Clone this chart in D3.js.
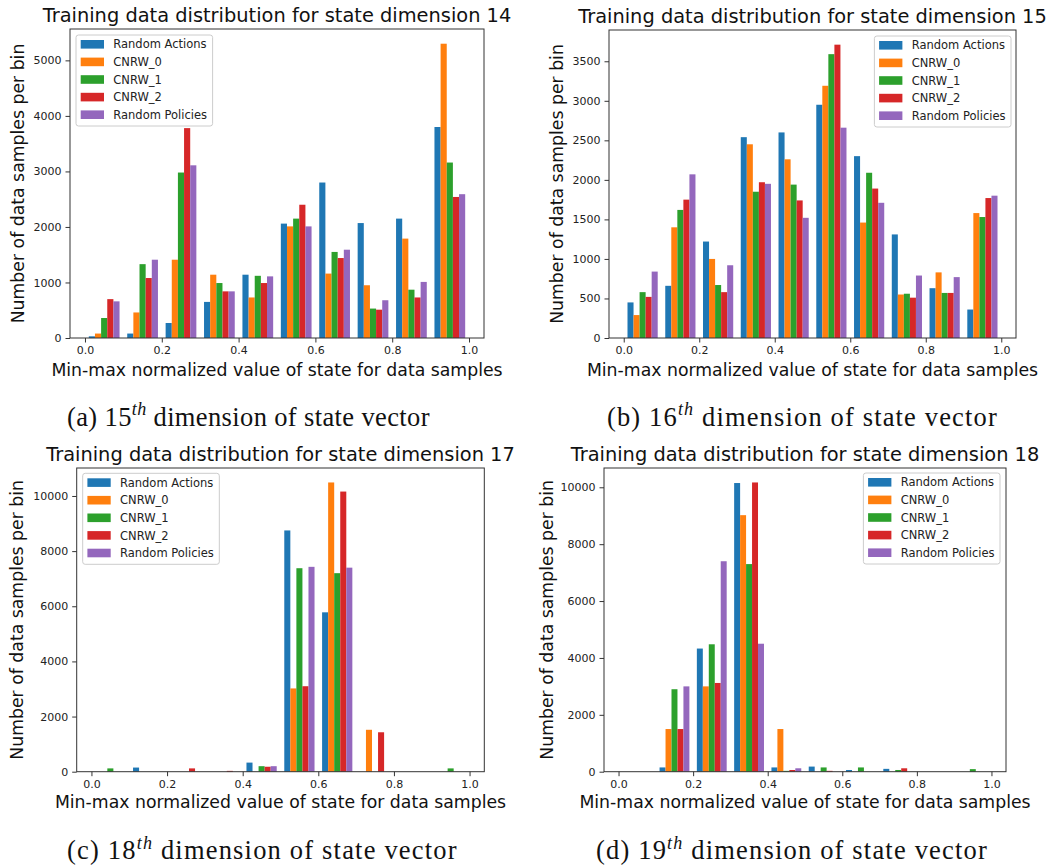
<!DOCTYPE html>
<html>
<head>
<meta charset="utf-8">
<script src="https://cdn.jsdelivr.net/npm/d3@7"></script>
<style>
  html, body { margin: 0; padding: 0; background: #fff; }
  svg { display: block; }
</style>
</head>
<body>
<svg id="chart" width="1060" height="866"></svg>
<script>
// ---------------- DATA ----------------
const seriesNames = ["Random Actions", "CNRW_0", "CNRW_1", "CNRW_2", "Random Policies"];
const seriesColors = ["#1f77b4", "#ff7f0e", "#2ca02c", "#d62728", "#9467bd"];
const binEdges = [0, 0.1, 0.2, 0.3, 0.4, 0.5, 0.6, 0.7, 0.8, 0.9, 1.0];
const xTickValues = [0, 0.2, 0.4, 0.6, 0.8, 1.0];

// counts per series (rows) per bin (columns)
const dim14Counts = [
  [30, 80, 270, 650, 1140, 2060, 2800, 2070, 2150, 3800],
  [80, 460, 1410, 1140, 730, 2010, 1160, 950, 1790, 5300],
  [360, 1330, 2980, 990, 1120, 2150, 1550, 530, 870, 3160],
  [700, 1080, 3780, 840, 990, 2400, 1440, 510, 730, 2540],
  [660, 1410, 3110, 840, 1110, 2010, 1590, 680, 1010, 2590]
];
const dim15Counts = [
  [450, 660, 1220, 2540, 2600, 2950, 2300, 1310, 630, 360],
  [290, 1400, 1000, 2450, 2260, 3190, 1460, 550, 830, 1580],
  [580, 1620, 670, 1850, 1940, 3590, 2090, 560, 570, 1530],
  [520, 1750, 580, 1970, 1740, 3710, 1890, 510, 570, 1770],
  [840, 2070, 920, 1950, 1520, 2660, 1710, 790, 770, 1800]
];
const dim17Counts = [
  [0, 150, 0, 0, 330, 8750, 5780, 0, 0, 0],
  [0, 0, 0, 0, 0, 3020, 10490, 1520, 0, 0],
  [120, 0, 0, 0, 200, 7380, 7200, 0, 0, 120],
  [0, 0, 120, 30, 180, 3100, 10160, 1430, 0, 0],
  [0, 0, 0, 0, 200, 7430, 7400, 0, 0, 0]
];
const dim18Counts = [
  [0, 150, 4330, 10150, 150, 180, 60, 100, 0, 0],
  [0, 1500, 3000, 9020, 1500, 0, 0, 0, 0, 0],
  [0, 2900, 4480, 7300, 30, 150, 150, 60, 0, 90],
  [0, 1500, 3120, 10170, 60, 30, 0, 120, 0, 0],
  [0, 3000, 7400, 4500, 120, 0, 0, 0, 0, 0]
];

const dim14YTicks = [0, 1000, 2000, 3000, 4000, 5000];
const dim15YTicks = [0, 500, 1000, 1500, 2000, 2500, 3000, 3500];
const dim17YTicks = [0, 2000, 4000, 6000, 8000, 10000];
const dim18YTicks = [0, 2000, 4000, 6000, 8000, 10000];

const panelTitles = [
  "Training data distribution for state dimension 14",
  "Training data distribution for state dimension 15",
  "Training data distribution for state dimension 17",
  "Training data distribution for state dimension 18"
];
const captionLabels = ["(a)", "(b)", "(c)", "(d)"];
const captionNumbers = ["15", "16", "18", "19"];
const xAxisLabel = "Min-max normalized value of state for data samples";
const yAxisLabel = "Number of data samples per bin";

// ---------------- LAYOUT ----------------
const panels = [
  { counts: dim14Counts, yTicks: dim14YTicks, left: 70, right: 484, top: 29, bottom: 338,
    legend: "left", legendDx: 6, legendDy: 6, yLabelX: 24, capX: 67, capY: 425.5, capW: 363 },
  { counts: dim15Counts, yTicks: dim15YTicks, left: 609, right: 1016, top: 30, bottom: 338,
    legend: "right", legendDx: 5, legendDy: 6, yLabelX: 562.7, capX: 607, capY: 425.5, capW: 391 },
  { counts: dim17Counts, yTicks: dim17YTicks, left: 76.7, right: 484.3, top: 468, bottom: 771.7,
    legend: "left", legendDx: 6, legendDy: 5.3, yLabelX: 22.6, capX: 67, capY: 859, capW: 391 },
  { counts: dim18Counts, yTicks: dim18YTicks, left: 604, right: 1006, top: 468, bottom: 771.7,
    legend: "right", legendDx: 6, legendDy: 5, yLabelX: 552.6, capX: 596, capY: 859, capW: 392 }
];

const svg = d3.select("#chart");
svg.append("rect").attr("width", 1060).attr("height", 866).attr("fill", "#fff");

const SANS = "DejaVu Sans, sans-serif";
const nSeries = seriesNames.length;

panels.forEach((p, pi) => {
  const g = svg.append("g");
  // bar geometry as matplotlib hist: 80% of bin width shared by series
  const binW = binEdges[1] - binEdges[0];
  const dw = 0.8 * binW / nSeries;
  const xMinData = binEdges[0] + 0.1 * binW;
  const xMaxData = binEdges[binEdges.length - 2] + 0.9 * binW;
  const pad = 0.05 * (xMaxData - xMinData);
  const x = d3.scaleLinear().domain([xMinData - pad, xMaxData + pad]).range([p.left, p.right]);
  const yMax = d3.max(p.counts.flat()) * 1.05;
  const y = d3.scaleLinear().domain([0, yMax]).range([p.bottom, p.top]);

  // bars
  p.counts.forEach((row, si) => {
    g.append("g").selectAll("rect")
      .data(row.map((v, bi) => ({ v, x0: binEdges[bi] + 0.1 * binW + si * dw })))
      .join("rect")
      .attr("x", d => x(d.x0))
      .attr("width", d => x(d.x0 + dw) - x(d.x0))
      .attr("y", d => y(d.v))
      .attr("height", d => y(0) - y(d.v))
      .attr("fill", seriesColors[si]);
  });

  // axes
  const xAxis = d3.axisBottom(x).tickValues(xTickValues).tickFormat(d3.format(".1f")).tickSize(4.5).tickPadding(4);
  const yAxis = d3.axisLeft(y).tickValues(p.yTicks).tickFormat(d3.format("d")).tickSize(4.5).tickPadding(4);
  const gx = g.append("g").attr("transform", `translate(0,${p.bottom})`).call(xAxis);
  const gy = g.append("g").attr("transform", `translate(${p.left},0)`).call(yAxis);
  [gx, gy].forEach(a => {
    a.select(".domain").remove();
    a.selectAll("line").attr("stroke", "#333").attr("stroke-width", 1);
    a.selectAll("text").attr("font-family", SANS).attr("font-size", 11).attr("fill", "#222");
  });

  // spines
  g.append("rect")
    .attr("x", p.left).attr("y", p.top)
    .attr("width", p.right - p.left).attr("height", p.bottom - p.top)
    .attr("fill", "none").attr("stroke", "#333").attr("stroke-width", 1);

  // title
  g.append("text")
    .attr("x", (p.left + p.right) / 2).attr("y", p.top - 6.8)
    .attr("text-anchor", "middle")
    .attr("font-family", SANS).attr("font-size", 19.4).attr("fill", "#111")
    .text(panelTitles[pi]);

  // x label
  g.append("text")
    .attr("x", (p.left + p.right) / 2).attr("y", p.bottom + (pi < 2 ? 37.5 : 36))
    .attr("text-anchor", "middle")
    .attr("font-family", SANS).attr("font-size", 17.3).attr("fill", "#111")
    .text(xAxisLabel);

  // y label
  g.append("text")
    .attr("transform", `translate(${p.yLabelX},${(p.top + p.bottom) / 2}) rotate(-90)`)
    .attr("text-anchor", "middle")
    .attr("font-family", SANS).attr("font-size", 17.3).attr("fill", "#111")
    .text(yAxisLabel);

  // legend
  const lg = g.append("g");
  const box = lg.append("rect");
  const rowH = 17.6;
  let maxW = 0;
  seriesNames.forEach((name, si) => {
    const cy = 9.3 + si * rowH;
    lg.append("rect")
      .attr("x", 4.7).attr("y", cy - 4.3)
      .attr("width", 23.3).attr("height", 8.6)
      .attr("fill", seriesColors[si]);
    const t = lg.append("text")
      .attr("x", 37.3).attr("y", cy).attr("dy", "0.36em")
      .attr("font-family", SANS).attr("font-size", 11.5).attr("fill", "#222")
      .text(name);
    maxW = Math.max(maxW, t.node().getComputedTextLength());
  });
  const boxW = 37.3 + maxW + 5.5;
  const boxH = 91;
  box.attr("width", boxW).attr("height", boxH).attr("rx", 2.5)
    .attr("fill", "#fff").attr("fill-opacity", 0.8)
    .attr("stroke", "#cccccc").attr("stroke-width", 1);
  const lx = p.legend === "left" ? p.left + p.legendDx : p.right - p.legendDx - boxW;
  lg.attr("transform", `translate(${lx},${p.top + p.legendDy})`);

  // caption (LaTeX style)
  const cap = svg.append("text")
    .attr("x", p.capX).attr("y", p.capY)
    .attr("font-family", "Liberation Serif, serif").attr("font-size", 26.5).attr("fill", "#111");
  cap.append("tspan").text(captionLabels[pi] + " " + captionNumbers[pi]);
  cap.append("tspan").attr("dy", -10.5).attr("font-size", 18).attr("font-style", "italic").text("th");
  cap.append("tspan").attr("dy", 10.5).text(" dimension of state vector");
  const w = cap.node().getBBox().width;
  const nChars = (captionLabels[pi] + " " + captionNumbers[pi] + "th dimension of state vector").length;
  const ls = Math.max(0, (p.capW - w) / nChars);
  cap.attr("letter-spacing", ls.toFixed(2));
});
</script>
</body>
</html>
